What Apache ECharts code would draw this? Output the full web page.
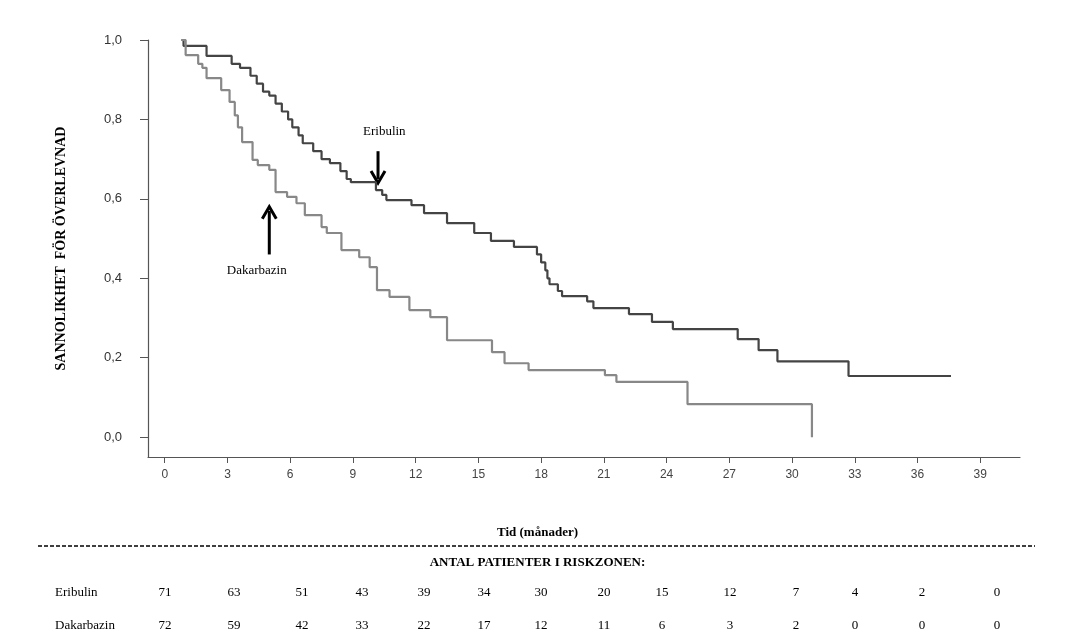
<!DOCTYPE html>
<html>
<head>
<meta charset="utf-8">
<script src="https://cdn.jsdelivr.net/npm/echarts@6/dist/echarts.min.js"></script>
<style>html,body{margin:0;padding:0;background:#fff}#chart{width:1075px;height:640px}</style>
</head>
<body>
<div id="chart"></div>
<script>
// Kaplan-Meier steg: [tid (månader), sannolikhet]
var eribulin = [[0.8,1.0],[0.9,0.985],[2.0,0.96],[3.2,0.94],[3.6,0.93],[4.1,0.91],[4.4,0.89],[4.7,0.87],[5.0,0.86],[5.3,0.84],[5.6,0.82],[5.9,0.80],[6.1,0.78],[6.4,0.76],[6.6,0.74],[7.1,0.72],[7.5,0.70],[7.9,0.69],[8.4,0.67],[8.7,0.65],[8.9,0.642],[10.1,0.622],[10.4,0.61],[10.6,0.597],[11.8,0.584],[12.4,0.564],[13.5,0.539],[14.8,0.514],[15.6,0.494],[16.7,0.479],[17.8,0.46],[18.0,0.44],[18.2,0.42],[18.3,0.40],[18.4,0.385],[18.8,0.368],[19.0,0.355],[20.2,0.342],[20.5,0.325],[22.2,0.31],[23.3,0.29],[24.3,0.272],[27.4,0.247],[28.4,0.219],[29.3,0.191],[32.7,0.154],[37.6,0.154]];
var dakarbazin = [[0.8,1.0],[1.0,0.962],[1.6,0.94],[1.8,0.93],[2.0,0.904],[2.7,0.874],[3.1,0.844],[3.35,0.81],[3.5,0.78],[3.7,0.743],[4.2,0.698],[4.45,0.685],[5.0,0.673],[5.3,0.617],[5.85,0.605],[6.3,0.589],[6.7,0.559],[7.5,0.529],[7.75,0.514],[8.45,0.471],[9.3,0.453],[9.8,0.428],[10.15,0.37],[10.75,0.353],[11.7,0.32],[12.7,0.302],[13.5,0.244],[15.65,0.214],[16.25,0.186],[17.4,0.169],[21.05,0.156],[21.6,0.139],[25.0,0.083],[30.95,0.083],[30.95,0.0]];
var xTicks = [0,3,6,9,12,15,18,21,24,27,30,33,36,39];
var yTicks = [0,0.2,0.4,0.6,0.8,1.0];
var riskX = [165,234,302,362,424,484,541,604,662,730,796,855,922,997]; // kolumnernas lägen i tabellen
var riskEribulin = [71,63,51,43,39,34,30,20,15,12,7,4,2,0];
var riskDakarbazin = [72,59,42,33,22,17,12,11,6,3,2,0,0,0];

var serif = '"Liberation Serif", "DejaVu Serif", serif';
var chart = echarts.init(document.getElementById('chart'));

var graphics = [
    { type: 'text', left: 'center', top: 526, style: { text: 'Tid (månader)', font: 'bold 13px ' + serif, fill: '#000' } },
    { type: 'line', shape: { x1: 38, y1: 546, x2: 1035, y2: 546 }, style: { stroke: '#000', lineWidth: 1.3, lineDash: [4, 2] } },
    { type: 'text', left: 'center', top: 556, style: { text: 'ANTAL PATIENTER I RISKZONEN:', font: 'bold 13px ' + serif, fill: '#000' } },
    { type: 'text', x: 55, y: 586, style: { text: 'Eribulin', font: '13px ' + serif, fill: '#000' } },
    { type: 'text', x: 55, y: 619, style: { text: 'Dakarbazin', font: '13px ' + serif, fill: '#000' } }
];
riskX.forEach(function (x, i) {
    graphics.push({ type: 'text', x: x, y: 586, style: { text: String(riskEribulin[i]), font: '13px ' + serif, fill: '#000', align: 'center' } });
    graphics.push({ type: 'text', x: x, y: 619, style: { text: String(riskDakarbazin[i]), font: '13px ' + serif, fill: '#000', align: 'center' } });
});

var option = {
    animation: false,
    grid: { left: 148, top: 40, width: 872, height: 417 },
    xAxis: {
        type: 'value', min: -0.8, max: 40.9,
        axisLine: { onZero: false, lineStyle: { color: '#555', width: 1.2 } },
        axisTick: { customValues: xTicks, length: 6, lineStyle: { color: '#555' } },
        axisLabel: { customValues: xTicks, color: '#444', fontSize: 12, fontFamily: 'Liberation Sans', margin: 12 },
        splitLine: { show: false }
    },
    yAxis: {
        type: 'value', min: -0.05, max: 1.0,
        name: 'SANNOLIKHET  FÖR ÖVERLEVNAD', nameLocation: 'middle', nameGap: 80,
        nameTextStyle: { fontFamily: serif, fontWeight: 'bold', fontSize: 14, color: '#000' },
        axisLine: { show: true, onZero: false, lineStyle: { color: '#555', width: 1.2 } },
        axisTick: { show: true, customValues: yTicks, length: 8, lineStyle: { color: '#555' } },
        axisLabel: {
            customValues: yTicks, color: '#333', fontSize: 13, fontFamily: 'Liberation Sans', margin: 26,
            padding: [0, 0, 6, 0],
            formatter: function (v) { return v.toFixed(1).replace('.', ','); }
        },
        splitLine: { show: false }
    },
    series: [
        { name: 'Eribulin', type: 'line', step: 'end', data: eribulin, symbol: 'none', lineStyle: { color: '#444', width: 2.2 } },
        { name: 'Dakarbazin', type: 'line', step: 'end', data: dakarbazin, symbol: 'none', lineStyle: { color: '#888', width: 2.2 } }
    ],
    graphic: graphics
};
chart.setOption(option);

// pilar och etiketter placeras i datakoordinater
function px(p) { return chart.convertToPixel({ gridIndex: 0 }, p); }
var e1 = px([10.2, 0.72]), e2 = px([10.2, 0.64]), eT = px([10.5, 0.77]);
var d1 = px([5.0, 0.46]), d2 = px([5.0, 0.58]), dT = px([4.4, 0.42]);
chart.setOption({ graphic: graphics.concat([
    { type: 'line', shape: { x1: e1[0], y1: e1[1], x2: e2[0], y2: e2[1] - 4 }, style: { stroke: '#000', lineWidth: 3 } },
    { type: 'polyline', shape: { points: [[e2[0] - 7, e2[1] - 12], [e2[0], e2[1]], [e2[0] + 7, e2[1] - 12]] }, style: { stroke: '#000', lineWidth: 3, fill: null } },
    { type: 'text', x: eT[0], y: eT[1], style: { text: 'Eribulin', font: '13px ' + serif, fill: '#000', align: 'center', verticalAlign: 'middle' } },
    { type: 'line', shape: { x1: d1[0], y1: d1[1], x2: d2[0], y2: d2[1] + 4 }, style: { stroke: '#000', lineWidth: 3 } },
    { type: 'polyline', shape: { points: [[d2[0] - 7, d2[1] + 12], [d2[0], d2[1]], [d2[0] + 7, d2[1] + 12]] }, style: { stroke: '#000', lineWidth: 3, fill: null } },
    { type: 'text', x: dT[0], y: dT[1], style: { text: 'Dakarbazin', font: '13px ' + serif, fill: '#000', align: 'center', verticalAlign: 'middle' } }
]) });
</script>
</body>
</html>
